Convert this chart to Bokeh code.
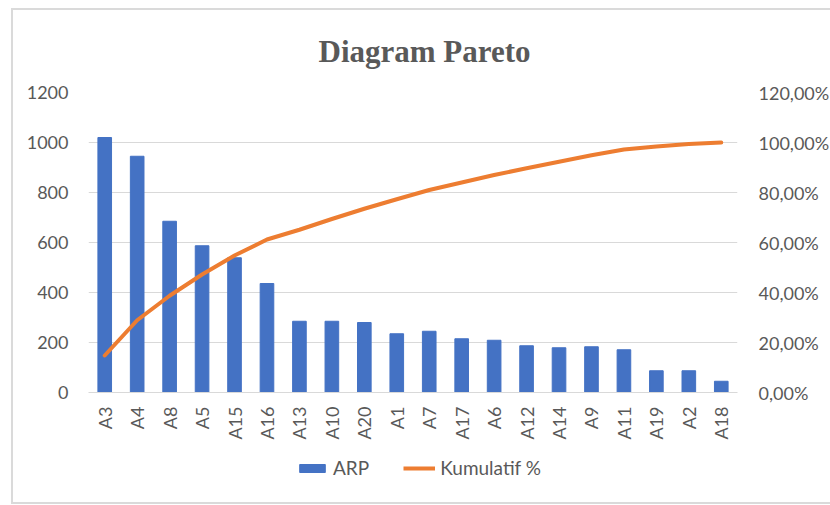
from bokeh.plotting import figure
from bokeh.layouts import column
from bokeh.models import (FactorRange, Range1d, LinearAxis, FixedTicker, Legend, LegendItem)
from bokeh.embed import file_html
from bokeh.resources import INLINE
import math

categories = ["A3", "A4", "A8", "A5", "A15", "A16", "A13", "A10", "A20", "A1",
              "A7", "A17", "A6", "A12", "A14", "A9", "A11", "A19", "A2", "A18"]
arp = [1020, 945, 685, 587, 539, 436, 285, 285, 280, 235,
       245, 215, 209, 187, 179, 183, 171, 87, 87, 45]
kumulatif = [14.8, 28.9, 38.7, 47.2, 54.8, 61.2, 65.1, 69.4, 73.5, 77.3,
             81.0, 84.0, 87.0, 89.7, 92.3, 94.9, 97.2, 98.4, 99.4, 100.0]
left_ticks = [0, 200, 400, 600, 800, 1000, 1200]
right_ticks = [0, 20, 40, 60, 80, 100, 120]
right_labels = ["0,00%", "20,00%", "40,00%", "60,00%", "80,00%", "100,00%", "120,00%"]

GREY = "#595959"
FONT = "Lato"
BLUE = "#4472C4"
ORANGE = "#ED7D31"
NAN = float("nan")

p = figure(width=819, height=442, output_backend="svg", toolbar_location=None,
           x_range=FactorRange(*categories, range_padding=0),
           y_range=Range1d(0, 1200),
           min_border_left=75, min_border_right=93, min_border_top=82, min_border_bottom=60)
p.extra_y_ranges = {"pct": Range1d(0, 120)}

p.title.text = "Diagram Pareto"
p.title.text_font = "Liberation Serif"
p.title.text_font_style = "bold"
p.title.text_font_size = "31px"
p.title.text_color = GREY
p.title.align = "left"
p.title.offset = 230
p.title.vertical_align = "top"
p.title.standoff = 44

p.outline_line_color = None
p.xgrid.grid_line_color = None
p.ygrid.grid_line_color = "#d9d9d9"
p.ygrid.ticker = FixedTicker(ticks=left_ticks)

bars = p.vbar(x=categories, top=arp, width=0.42, color=BLUE)
line = p.line(x=categories, y=kumulatif, line_color=ORANGE, line_width=4,
              y_range_name="pct", line_cap="round", line_join="round")

# left axis
ya = p.yaxis[0]
ya.ticker = FixedTicker(ticks=left_ticks)
ya.axis_line_color = None
ya.major_tick_line_color = None
ya.minor_tick_line_color = None
ya.major_label_text_font = FONT
ya.major_label_text_font_size = "18px"
ya.major_label_text_color = GREY
ya.major_label_standoff = 14

# right axis
ra = LinearAxis(y_range_name="pct", ticker=FixedTicker(ticks=right_ticks))
ra.major_label_overrides = {t: l for t, l in zip(right_ticks, right_labels)}
ra.axis_line_color = None
ra.major_tick_line_color = None
ra.minor_tick_line_color = None
ra.major_label_text_font = FONT
ra.major_label_text_font_size = "18px"
ra.major_label_text_color = GREY
ra.major_label_standoff = 15
p.add_layout(ra, "right")

# x axis
xa = p.xaxis[0]
xa.axis_line_color = "#d9d9d9"
xa.major_tick_line_color = None
xa.minor_tick_line_color = None
xa.major_label_orientation = math.pi / 2
xa.major_label_text_font = FONT
xa.major_label_text_font_size = "18px"
xa.major_label_text_color = GREY
xa.major_label_standoff = 8

# legend strip below the chart
p2 = figure(width=819, height=50, output_backend="svg", toolbar_location=None,
            x_range=Range1d(0, 1), y_range=Range1d(0, 1),
            min_border=0, min_border_left=0, min_border_right=0,
            min_border_top=0, min_border_bottom=0, outline_line_color=None)
p2.axis.visible = False
p2.grid.visible = False
lb = p2.vbar(x=[NAN], top=[NAN], width=0.4, color=BLUE)
ll = p2.line(x=[NAN, NAN], y=[NAN, NAN], line_color=ORANGE, line_width=4)
legend = Legend(items=[LegendItem(label="ARP", renderers=[lb]),
                       LegendItem(label="Kumulatif %", renderers=[ll])],
                orientation="horizontal", location=(208, 23),
                label_text_font=FONT, label_text_font_size="19px", label_text_color=GREY,
                glyph_width=32, glyph_height=10, spacing=34, label_standoff=5,
                border_line_color=None, background_fill_alpha=0, margin=0, padding=0)
p2.add_layout(legend)

layout = column(p, p2, spacing=0, margin=(8, 0, 0, 11),
                styles={"border-left": "2px solid #dadada", "border-top": "2px solid #dadada",
                        "border-bottom": "2px solid #dadada"})

open("out.html", "w").write(file_html(layout, INLINE))
